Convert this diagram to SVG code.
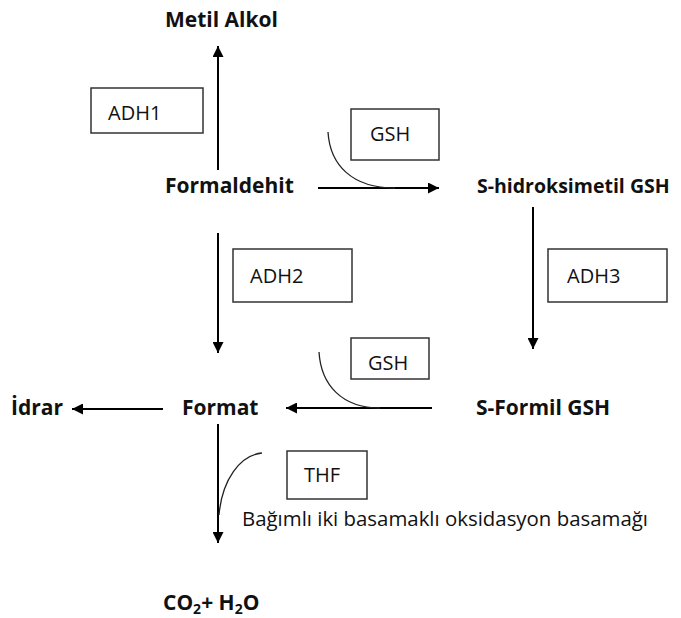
<svg xmlns="http://www.w3.org/2000/svg" width="681" height="618" viewBox="0 0 681 618">
<defs>
<style>
.b{font-family:"Open Sans","Liberation Sans",sans-serif;font-weight:bold;font-size:21px;fill:#111}
.r{font-family:"Open Sans","Liberation Sans",sans-serif;font-size:20px;fill:#111}
.box{fill:#fff;stroke:#333;stroke-width:1.5}
.ln{fill:none;stroke:#000;stroke-width:2}
.cv{fill:none;stroke:#222;stroke-width:1.3}
</style>
<marker id="ah" viewBox="0 0 10 10" refX="10" refY="5" markerWidth="11" markerHeight="11" markerUnits="userSpaceOnUse" orient="auto">
<path d="M0,0 L10,5 L0,10 Z" fill="#000"/>
</marker>
</defs>
<rect width="681" height="618" fill="#fff"/>
<g id="connectors">
<line class="ln" x1="218" y1="170" x2="218" y2="46" marker-end="url(#ah)"/>
<line class="ln" x1="318" y1="188" x2="439" y2="188" marker-end="url(#ah)"/>
<path class="cv" d="M328,132 C330,165 352,188 395,188"/>
<line class="ln" x1="218" y1="233" x2="218" y2="353" marker-end="url(#ah)"/>
<line class="ln" x1="533" y1="207" x2="533" y2="349" marker-end="url(#ah)"/>
<line class="ln" x1="432" y1="408" x2="286" y2="408" marker-end="url(#ah)"/>
<path class="cv" d="M319,352 C321,385 342,408 380,408"/>
<line class="ln" x1="163" y1="409" x2="72" y2="409" marker-end="url(#ah)"/>
<line class="ln" x1="218" y1="424" x2="218" y2="543" marker-end="url(#ah)"/>
<path class="cv" d="M262,453 C240,455 222,480 219,515"/>
</g>
<g id="metil-alkol"><text class="b" x="165" y="27">Metil Alkol</text></g>
<g id="adh1"><rect class="box" x="91" y="88" width="112" height="45"/><text class="r" x="108" y="120">ADH1</text></g>
<g id="formaldehit"><text class="b" x="165" y="193">Formaldehit</text></g>
<g id="gsh1"><rect class="box" x="351" y="109" width="88" height="51"/><text class="r" x="370" y="141">GSH</text></g>
<g id="s-hidroksimetil"><text class="b" x="477" y="193" style="font-size:19.5px">S-hidroksimetil GSH</text></g>
<g id="adh2"><rect class="box" x="233" y="249" width="119" height="53"/><text class="r" x="250" y="283">ADH2</text></g>
<g id="adh3"><rect class="box" x="548" y="249" width="119" height="53"/><text class="r" x="567" y="283">ADH3</text></g>
<g id="gsh2"><rect class="box" x="351" y="338" width="78" height="41"/><text class="r" x="368" y="370">GSH</text></g>
<g id="idrar"><text class="b" x="11" y="415">İdrar</text></g>
<g id="format"><text class="b" x="182" y="415">Format</text></g>
<g id="s-formil"><text class="b" x="476" y="415">S-Formil GSH</text></g>
<g id="thf"><rect class="box" x="287" y="451" width="80" height="48"/><text class="r" x="304" y="482">THF</text></g>
<g id="note"><text class="r" x="242" y="526" textLength="406" lengthAdjust="spacingAndGlyphs">Bağımlı iki basamaklı oksidasyon basamağı</text></g>
<g id="co2-h2o"><text class="b" x="163" y="610">CO<tspan font-size="14" dy="4">2</tspan><tspan dy="-4">+ H</tspan><tspan font-size="14" dy="4">2</tspan><tspan dy="-4">O</tspan></text></g>
</svg>
